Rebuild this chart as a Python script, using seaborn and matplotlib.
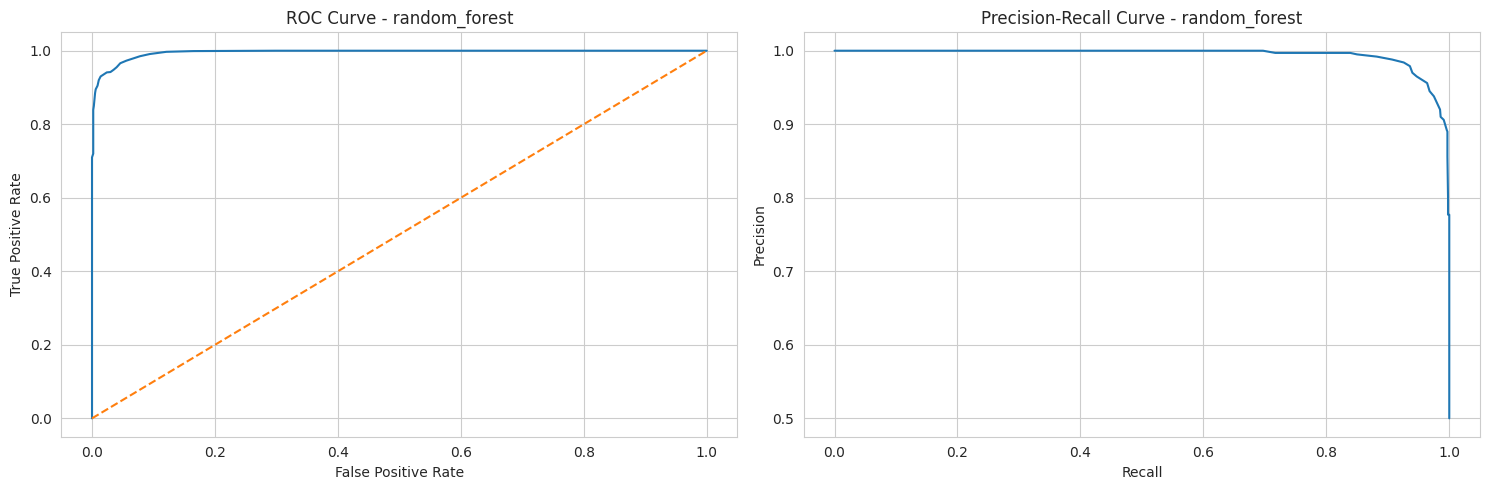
import matplotlib
matplotlib.use("Agg")
import matplotlib.pyplot as plt
import seaborn as sns

model_name = "random_forest"

# ROC curve points
fpr = [0.0, 0.0, 0.0, 0.002, 0.002, 0.003, 0.005, 0.006, 0.009, 0.011, 0.014,
       0.024, 0.030, 0.035, 0.040, 0.046, 0.056, 0.078, 0.094, 0.121, 0.165,
       0.3, 0.6, 1.0]
tpr = [0.0, 0.69, 0.71, 0.72, 0.839, 0.85, 0.885, 0.895, 0.905, 0.920, 0.930,
       0.941, 0.942, 0.948, 0.955, 0.966, 0.973, 0.985, 0.991, 0.997, 0.999,
       1.0, 1.0, 1.0]

# precision-recall points
recall = [0.0, 0.697, 0.717, 0.839, 0.850, 0.882, 0.907, 0.926, 0.936, 0.940,
          0.947, 0.964, 0.968, 0.975, 0.985, 0.986, 0.991, 0.996, 0.997, 0.997,
          0.998, 0.998, 1.0, 1.0]
precision = [1.0, 1.0, 0.997, 0.997, 0.995, 0.992, 0.988, 0.984, 0.979, 0.970,
             0.965, 0.956, 0.945, 0.938, 0.920, 0.910, 0.906, 0.892, 0.890,
             0.856, 0.80, 0.777, 0.777, 0.5]

chance = [0.0, 1.0]

sns.set_style("whitegrid")
fig, axes = plt.subplots(1, 2, figsize=(15, 5), dpi=100)

sns.lineplot(x=fpr, y=tpr, ax=axes[0], estimator=None, sort=False)
sns.lineplot(x=chance, y=chance, ax=axes[0], estimator=None, linestyle="--")
axes[0].set_xlabel("False Positive Rate")
axes[0].set_ylabel("True Positive Rate")
axes[0].set_title(f"ROC Curve - {model_name}")

sns.lineplot(x=recall, y=precision, ax=axes[1], estimator=None, sort=False)
axes[1].set_xlabel("Recall")
axes[1].set_ylabel("Precision")
axes[1].set_title(f"Precision-Recall Curve - {model_name}")

plt.tight_layout()
plt.savefig("out.png", dpi=100, bbox_inches="tight")
